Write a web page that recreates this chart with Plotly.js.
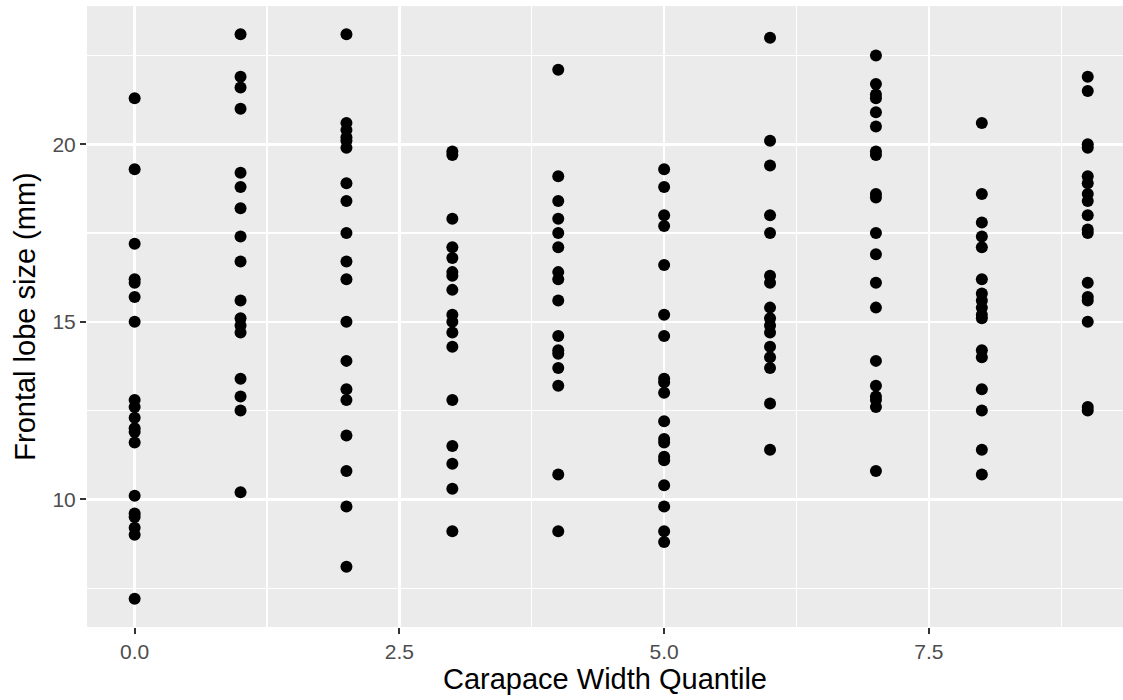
<!DOCTYPE html>
<html>
<head>
<meta charset="utf-8">
<script src="https://cdn.plot.ly/plotly-3.0.1.min.js"></script>
<style>
  html, body { margin: 0; padding: 0; background: #ffffff; }
  #chart { width: 1123px; height: 700px; }
</style>
</head>
<body>
<div id="chart"></div>
<script>
// Frontal lobe size (mm) for each carapace width quantile group
const quantiles = [0, 1, 2, 3, 4, 5, 6, 7, 8, 9];

const lobe_q0 = [21.3, 19.3, 17.2, 16.2, 16.1, 15.7, 15.0, 12.8, 12.6, 12.3, 12.0, 11.9, 11.6, 10.1, 9.6, 9.5, 9.2, 9.0, 7.2];
const lobe_q1 = [23.1, 21.9, 21.6, 21.0, 19.2, 18.8, 18.2, 17.4, 16.7, 15.6, 15.1, 14.9, 14.7, 13.4, 12.9, 12.5, 10.2];
const lobe_q2 = [23.1, 20.6, 20.4, 20.2, 20.1, 19.9, 18.9, 18.4, 17.5, 16.7, 16.2, 15.0, 13.9, 13.1, 12.8, 11.8, 10.8, 9.8, 8.1];
const lobe_q3 = [19.8, 19.7, 17.9, 17.1, 16.8, 16.4, 16.3, 15.9, 15.2, 15.0, 14.7, 14.3, 12.8, 11.5, 11.0, 10.3, 9.1];
const lobe_q4 = [22.1, 19.1, 18.4, 17.9, 17.5, 17.1, 16.4, 16.2, 15.6, 14.6, 14.2, 14.1, 13.7, 13.2, 10.7, 9.1];
const lobe_q5 = [19.3, 18.8, 18.0, 17.7, 16.6, 15.2, 14.6, 13.4, 13.3, 13.0, 12.2, 11.7, 11.6, 11.2, 11.1, 10.4, 9.8, 9.1, 8.8];
const lobe_q6 = [23.0, 20.1, 19.4, 18.0, 17.5, 16.3, 16.1, 15.4, 15.1, 14.9, 14.7, 14.3, 14.0, 13.7, 12.7, 11.4];
const lobe_q7 = [22.5, 21.7, 21.4, 21.3, 20.9, 20.5, 19.8, 19.7, 18.6, 18.5, 17.5, 16.9, 16.1, 15.4, 13.9, 13.2, 12.9, 12.8, 12.6, 10.8];
const lobe_q8 = [20.6, 18.6, 17.8, 17.4, 17.1, 16.2, 15.8, 15.6, 15.4, 15.2, 15.1, 14.2, 14.0, 13.1, 12.5, 11.4, 10.7];
const lobe_q9 = [21.9, 21.5, 20.0, 19.9, 19.1, 18.9, 18.6, 18.4, 18.0, 17.6, 17.5, 16.1, 15.7, 15.6, 15.0, 12.6, 12.5];

const xTickVals = [0, 2.5, 5, 7.5];
const xTickText = ["0.0", "2.5", "5.0", "7.5"];
const yTickVals = [10, 15, 20];
const yTickText = ["10", "15", "20"];

const groups = [lobe_q0, lobe_q1, lobe_q2, lobe_q3, lobe_q4, lobe_q5, lobe_q6, lobe_q7, lobe_q8, lobe_q9];
const xs = [];
const ys = [];
groups.forEach((vals, i) => {
  vals.forEach(v => { xs.push(quantiles[i]); ys.push(v); });
});

const trace = {
  type: "scatter",
  mode: "markers",
  x: xs,
  y: ys,
  marker: { color: "#000000", size: 12, line: { width: 0 } },
  hoverinfo: "x+y"
};

const FONT = '"Liberation Sans", Arial, Helvetica, sans-serif';

const layout = {
  width: 1123,
  height: 700,
  margin: { l: 87, r: 0, t: 6, b: 73 },
  paper_bgcolor: "#ffffff",
  plot_bgcolor: "#EBEBEB",
  showlegend: false,
  font: { family: FONT, color: "#4D4D4D" },
  xaxis: {
    range: [-0.45, 9.333],
    tickvals: xTickVals,
    ticktext: xTickText,
    ticks: "outside",
    ticklen: 6,
    tickwidth: 2,
    tickcolor: "#333333",
    tickfont: { family: FONT, size: 21, color: "#4D4D4D" },
    showgrid: true,
    gridcolor: "#ffffff",
    gridwidth: 2.4,
    minor: { tickvals: [1.25, 3.75, 6.25, 8.75], showgrid: true, gridcolor: "#ffffff", gridwidth: 1.2, ticks: "" },
    zeroline: false,
    showline: false,
    title: { text: "Carapace Width Quantile", font: { family: FONT, size: 29, color: "#000000" }, standoff: 6 }
  },
  yaxis: {
    range: [6.405, 23.895],
    tickvals: yTickVals,
    ticktext: yTickText,
    ticks: "outside",
    ticklen: 6,
    tickwidth: 2,
    tickcolor: "#333333",
    tickfont: { family: FONT, size: 21, color: "#4D4D4D" },
    showgrid: true,
    gridcolor: "#ffffff",
    gridwidth: 2.4,
    minor: { tickvals: [7.5, 12.5, 17.5, 22.5], showgrid: true, gridcolor: "#ffffff", gridwidth: 1.2, ticks: "" },
    zeroline: false,
    showline: false,
    title: { text: "Frontal lobe size (mm)", font: { family: FONT, size: 29, color: "#000000" }, standoff: 8 }
  }
};

Plotly.newPlot("chart", [trace], layout, { displayModeBar: false, staticPlot: true });
</script>
</body>
</html>
